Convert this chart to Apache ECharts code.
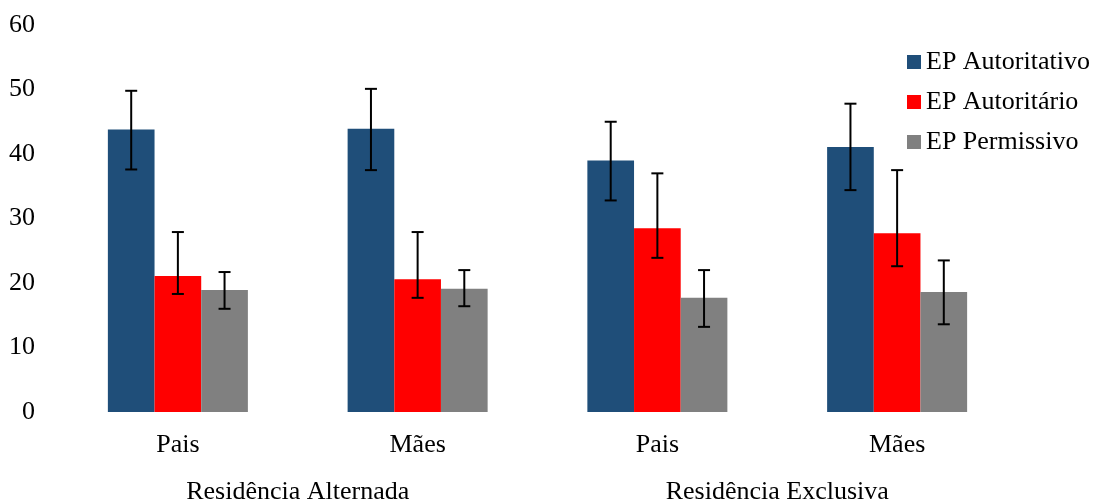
<!DOCTYPE html>
<html>
<head>
<meta charset="utf-8">
<script src="https://cdn.jsdelivr.net/npm/echarts@6/dist/echarts.min.js"></script>
<style>
  html, body { margin: 0; padding: 0; background: #fff; }
  #chart { width: 1097px; height: 502px; }
</style>
</head>
<body>
<div id="chart"></div>
<script>
// Parent groups and residence types
const categories = ['Pais', 'Mães', 'Pais', 'Mães'];
const residenceGroups = ['Residência Alternada', 'Residência Exclusiva'];
const yTicks = [0, 10, 20, 30, 40, 50, 60];

// Mean scores per parenting style
const autoritativo = [43.8, 43.9, 39.0, 41.1];
const autoritario = [21.1, 20.6, 28.5, 27.7];
const permissivo = [18.9, 19.1, 17.7, 18.6];

// Error bar extents (low / high)
const autoritativoLow = [37.6, 37.5, 32.8, 34.4];
const autoritativoHigh = [49.8, 50.1, 45.0, 47.8];
const autoritarioLow = [18.3, 17.7, 23.9, 22.6];
const autoritarioHigh = [27.9, 27.9, 37.0, 37.5];
const permissivoLow = [16.0, 16.4, 13.2, 13.6];
const permissivoHigh = [21.7, 22.0, 22.0, 23.5];

const seriesNames = ['EP Autoritativo', 'EP Autoritário', 'EP Permissivo'];
const colors = ['#1F4E79', '#FF0000', '#808080'];
const means = [autoritativo, autoritario, permissivo];
const lows = [autoritativoLow, autoritarioLow, permissivoLow];
const highs = [autoritativoHigh, autoritarioHigh, permissivoHigh];

const CATEGORY_GAP = 0.416;
const FONT = '"Liberation Serif", "Times New Roman", serif';
const FONT_SIZE = 26;

function errorBarSeries(idx) {
  const data = categories.map((c, i) => [i, lows[idx][i], highs[idx][i]]);
  return {
    type: 'custom',
    name: seriesNames[idx] + ' erro',
    z: 10,
    silent: true,
    renderItem: function (params, api) {
      const band = api.size([1, 0])[0];
      const barW = band * (1 - CATEGORY_GAP) / 3;
      const lowPt = api.coord([api.value(0), api.value(1)]);
      const highPt = api.coord([api.value(0), api.value(2)]);
      const x = lowPt[0] + (idx - 1) * barW;
      const cap = 6;
      const style = { stroke: '#000', lineWidth: 2 };
      return {
        type: 'group',
        children: [
          { type: 'line', shape: { x1: x, y1: lowPt[1], x2: x, y2: highPt[1] }, style: style },
          { type: 'line', shape: { x1: x - cap, y1: highPt[1], x2: x + cap, y2: highPt[1] }, style: style },
          { type: 'line', shape: { x1: x - cap, y1: lowPt[1], x2: x + cap, y2: lowPt[1] }, style: style }
        ]
      };
    },
    encode: { x: 0, y: [1, 2] },
    data: data
  };
}

const barSeries = seriesNames.map((name, idx) => ({
  type: 'bar',
  name: name,
  data: means[idx],
  barGap: '0%',
  barCategoryGap: (CATEGORY_GAP * 100) + '%',
  itemStyle: { color: colors[idx] },
  xAxisIndex: 0
}));

const chart = echarts.init(document.getElementById('chart'), null, { renderer: 'canvas' });
chart.setOption({
  animation: false,
  textStyle: { fontFamily: FONT },
  grid: { left: 58, right: 80, top: 25, bottom: 90, containLabel: false, outerBoundsMode: 'none' },
  legend: {
    data: seriesNames,
    orient: 'vertical',
    left: 902,
    top: 44,
    icon: 'rect',
    itemWidth: 14,
    itemHeight: 14,
    itemGap: 14,
    textStyle: { fontFamily: FONT, fontSize: FONT_SIZE, color: '#000' }
  },
  xAxis: [
    {
      type: 'category',
      data: categories,
      axisLine: { show: false },
      axisTick: { show: false },
      axisLabel: { fontFamily: FONT, fontSize: FONT_SIZE, color: '#000', margin: 20 }
    },
    {
      type: 'category',
      data: residenceGroups,
      position: 'bottom',
      axisLine: { show: false },
      axisTick: { show: false },
      axisLabel: { fontFamily: FONT, fontSize: FONT_SIZE, color: '#000', margin: 67 }
    }
  ],
  yAxis: {
    type: 'value',
    min: yTicks[0],
    max: yTicks[yTicks.length - 1],
    interval: 10,
    axisLine: { show: false },
    axisTick: { show: false },
    splitLine: { show: false },
    axisLabel: { fontFamily: FONT, fontSize: FONT_SIZE, color: '#000', margin: 23 }
  },
  series: barSeries.concat([0, 1, 2].map(errorBarSeries))
});
</script>
</body>
</html>
